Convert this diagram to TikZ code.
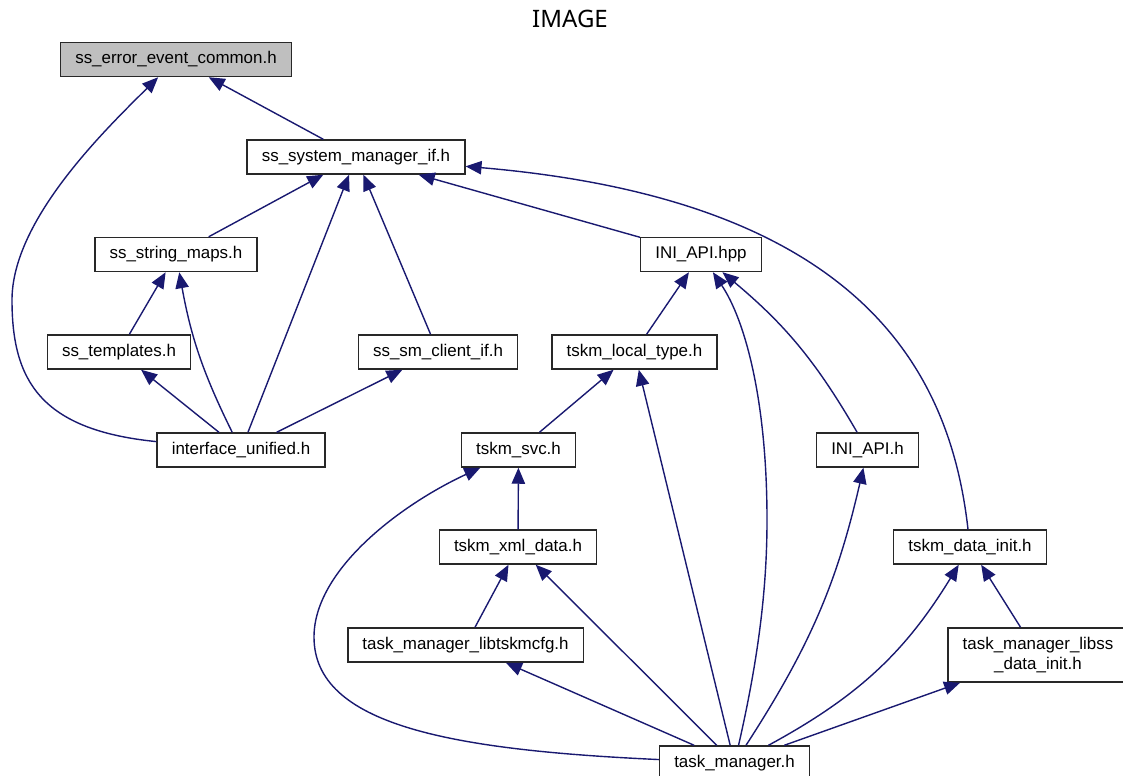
\documentclass[tikz,border=0pt]{standalone}
\usepackage{fontspec}
\setmainfont{Liberation Sans}
\newfontfamily\titlefont{Noto Sans}
\usetikzlibrary{arrows.meta,calc}
\definecolor{edgeBlue}{RGB}{25,25,112}
\definecolor{boxGray}{RGB}{191,191,191}
\definecolor{boxLine}{RGB}{40,40,40}

\begin{document}
\begin{tikzpicture}[x=0.75pt,y=-0.75pt,
        header/.style={draw=boxLine,fill=white,line width=1.1pt,minimum height=25.5pt,
                       inner xsep=11pt,inner ysep=2pt,align=center,
                       font=\fontsize{12.7}{15}\selectfont},
        incl/.style={draw=edgeBlue,line width=1.05pt,-{Triangle[length=12pt,width=10pt]}}
    ]
    \useasboundingbox (0,0) rectangle (1123,775);
    \node[font=\titlefont\fontsize{18}{22}\selectfont] (title) at (570,19) {IMAGE};

    % headers, one row per include level
    \node[header,fill=boxGray] (sserr) at (176,59.5) {ss\_error\_event\_common.h};
    \node[header] (ssm) at (356,157) {ss\_system\_manager\_if.h};
    \node[header] (strmaps) at (176,254.5) {ss\_string\_maps.h};
    \node[header] (hpp) at (701,254.5) {INI\_API.hpp};
    \node[header] (templates) at (119,352) {ss\_templates.h};
    \node[header] (smclient) at (438,352) {ss\_sm\_client\_if.h};
    \node[header] (localtype) at (634.5,352) {tskm\_local\_type.h};
    \node[header] (iu) at (241,450) {interface\_unified.h};
    \node[header] (svc) at (518.5,450) {tskm\_svc.h};
    \node[header] (iniapih) at (867.5,450) {INI\_API.h};
    \node[header] (xmldata) at (518,547) {tskm\_xml\_data.h};
    \node[header] (datainit) at (970,547) {tskm\_data\_init.h};
    \node[header] (libcfg) at (465.5,645) {task\_manager\_libtskmcfg.h};
    \node[header,minimum height=40.5pt] (libss) at (1038,655) {task\_manager\_libss\\\_data\_init.h};
    \node[header] (tm) at (734.5,763) {task\_manager.h};

    % include edges, arrow on the included file
    \draw[incl] (ssm) -- (sserr);
    \draw[incl] (iu) .. controls (40,430) and (12,380) .. (12,300)
                     .. controls (12,220) and (105,130) .. (sserr);
    \draw[incl] (strmaps) -- (ssm);
    \draw[incl] (iu) -- (ssm);
    \draw[incl] (smclient) -- (ssm);
    \draw[incl] (hpp) -- (ssm);
    \draw[incl] (datainit) .. controls (950,370) and (860,200) .. (ssm);
    \draw[incl] (templates) -- (strmaps);
    \draw[incl] (iu) to[bend left=8] (strmaps);
    \draw[incl] (iu) -- (templates);
    \draw[incl] (iu) -- (smclient);
    \draw[incl] (localtype) -- (hpp);
    \draw[incl] (tm) .. controls (758,660) and (767,590) .. (767,520)
                     .. controls (767,400) and (745,320) .. (hpp);
    \draw[incl] (iniapih) to[bend right=10] (hpp);
    \draw[incl] (svc) -- (localtype);
    \draw[incl] (tm) -- (localtype);
    \draw[incl] (xmldata) -- (svc);
    \draw[incl] (tm) .. controls (450,750) and (314,725) .. (314,637)
                     .. controls (314,570) and (400,505) .. (svc);
    \draw[incl] (libcfg) -- (xmldata);
    \draw[incl] (tm) -- (xmldata);
    \draw[incl] (tm) -- (libcfg);
    \draw[incl] (tm) to[bend right=10] (iniapih);
    \draw[incl] (tm) to[bend right=15] (datainit);
    \draw[incl] (tm) -- (libss);
    \draw[incl] (libss) -- (datainit);
\end{tikzpicture}
\end{document}
